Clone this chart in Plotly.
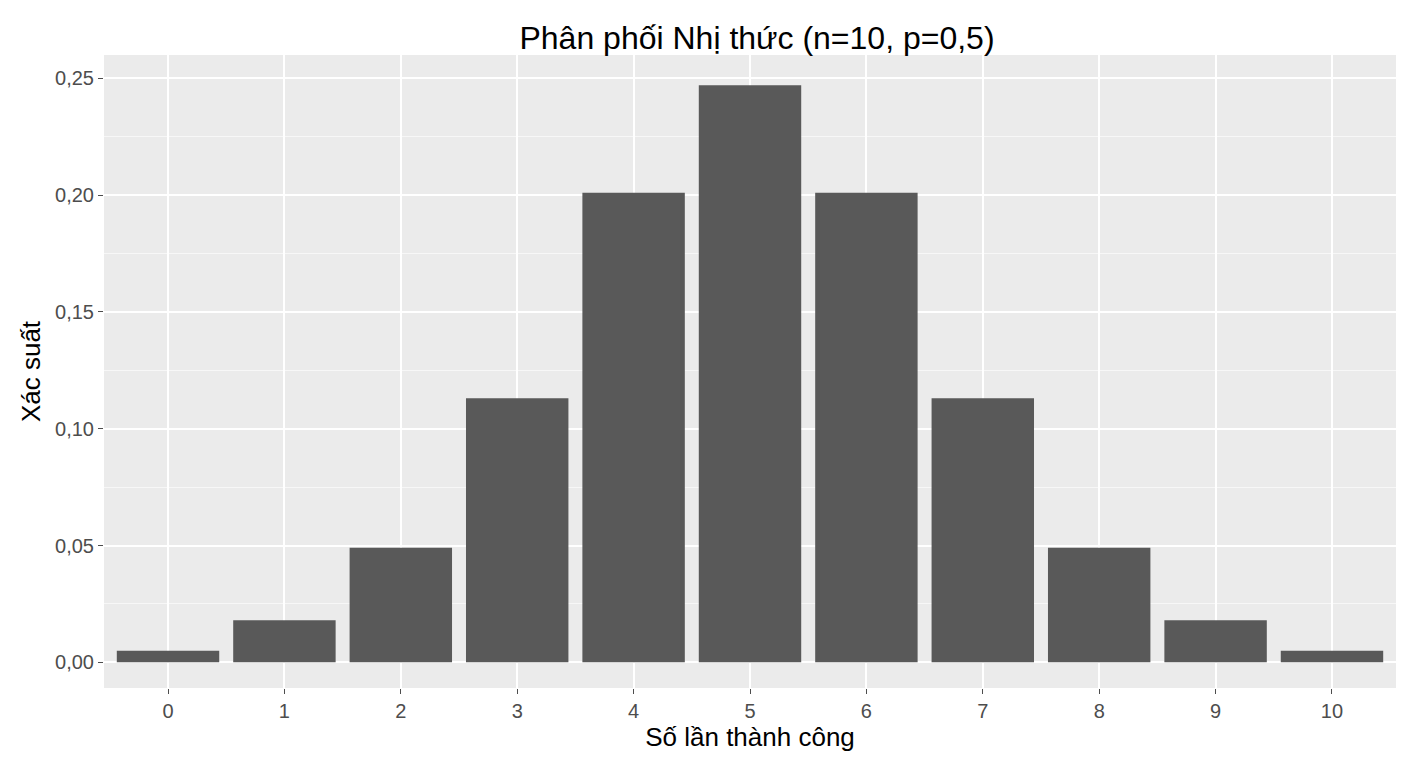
import plotly.graph_objects as go

successes = [0, 1, 2, 3, 4, 5, 6, 7, 8, 9, 10]
probability = [0.005, 0.018, 0.049, 0.113, 0.201, 0.247, 0.201, 0.113, 0.049, 0.018, 0.005]

fig = go.Figure(go.Bar(x=successes, y=probability, width=0.88,
                       marker=dict(color="#595959", line=dict(width=0))))

fig.update_layout(
    width=1400, height=760,
    margin=dict(l=96, r=12, t=47, b=80),
    paper_bgcolor="white", plot_bgcolor="#EBEBEB",
    separators=",.",
    font=dict(family="Liberation Sans, Arial", color="#4D4D4D", size=20),
    title=dict(text="Phân phối Nhị thức (n=10, p=0,5)", x=0.535, xanchor="center",
               y=0.975, font=dict(size=32, color="black")),
    showlegend=False,
)
fig.update_xaxes(
    range=[-0.55, 10.55], tickvals=successes, showgrid=True, gridcolor="white", gridwidth=2,
    ticks="outside", ticklen=5, tickcolor="#4D4D4D", zeroline=False,
    title=dict(text="Số lần thành công", font=dict(size=26, color="black"), standoff=4),
)
fig.update_yaxes(
    range=[-0.011, 0.260], tickvals=[0, 0.05, 0.1, 0.15, 0.2, 0.25], tickformat=".2f",
    showgrid=True, gridcolor="white", gridwidth=2,
    minor=dict(tickvals=[0.025, 0.075, 0.125, 0.175, 0.225], showgrid=True,
               gridcolor="#F7F7F7", gridwidth=1),
    ticks="outside", ticklen=5, tickcolor="#4D4D4D", zeroline=False,
    title=dict(text="Xác suất", font=dict(size=26, color="black"), standoff=6),
)

fig.write_html("out.html")
